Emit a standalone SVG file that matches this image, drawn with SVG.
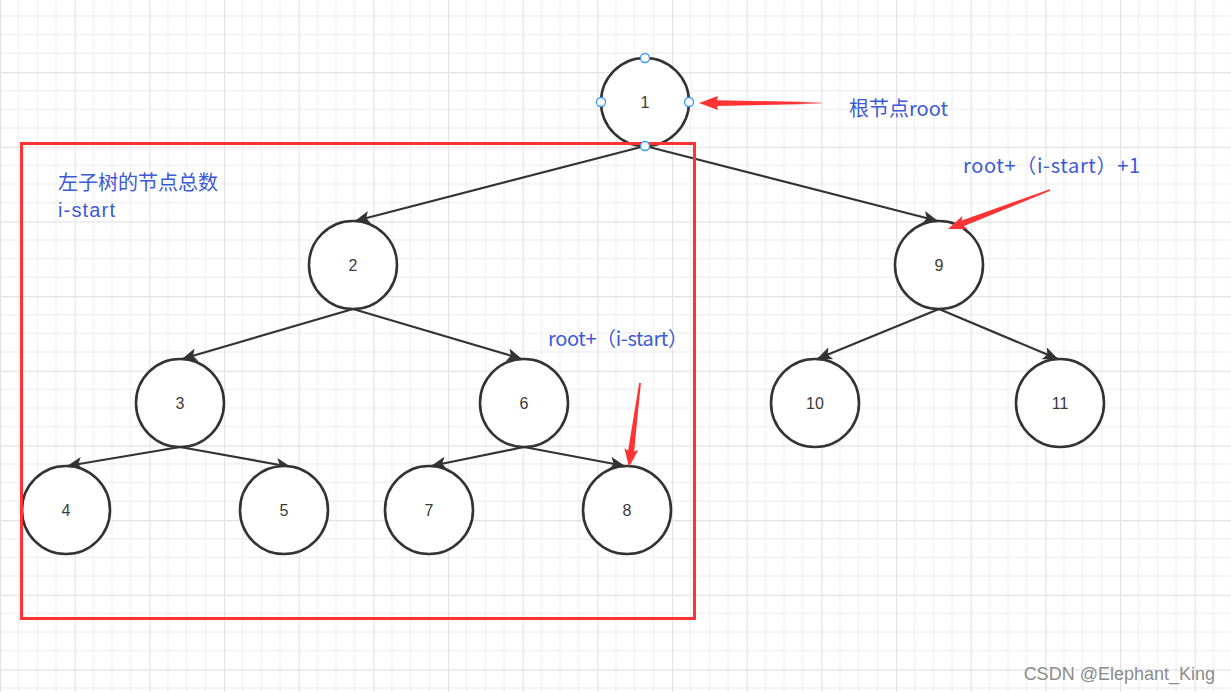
<svg xmlns="http://www.w3.org/2000/svg" width="1231" height="692" viewBox="0 0 1231 692">
<defs>
<pattern id="grid" patternUnits="userSpaceOnUse" x="0" y="72" width="74.667" height="74.667">
<path d="M18.667 0V74.667M37.333 0V74.667M56 0V74.667M0 18.667H74.667M0 37.333H74.667M0 56H74.667" stroke="#f0f0f0" stroke-width="1.3" fill="none"/>
<path d="M0.5 0V74.667M0 0.5H74.667" stroke="#e3e3e3" stroke-width="1.3" fill="none"/>
</pattern>
<marker id="arr" markerUnits="userSpaceOnUse" markerWidth="17" markerHeight="14" refX="15" refY="6.5" orient="auto">
<path d="M0 0L15 6.5L0 13L3.5 6.5z" fill="#333"/>
</marker>
<style>
.edge{stroke:#333;stroke-width:2.2;fill:none;marker-end:url(#arr)}
.node ellipse{fill:#fff;stroke:#333;stroke-width:2.6}
.node text{font-family:"Liberation Sans",Arial,sans-serif;font-size:16px;fill:#3a3a3a;text-anchor:middle}
.lbl{font-family:"Noto Sans CJK SC","Noto Sans",sans-serif;font-size:20px;fill:#3d5ad6}
.lbl2{font-family:"Liberation Sans",Arial,sans-serif;font-size:20px;fill:#3d5ad6}
.red{fill:#ff3333}
.handle{fill:#fff;stroke:#3399ff;stroke-width:1.3}
</style>
<linearGradient id="fade1" x1="699" y1="0" x2="822" y2="0" gradientUnits="userSpaceOnUse">
<stop offset="0.8" stop-color="#ff3333"/><stop offset="1" stop-color="#ff3333" stop-opacity="0.35"/>
</linearGradient>
</defs>
<rect width="1231" height="692" fill="#fff"/>
<rect width="1231" height="692" fill="url(#grid)"/>
<g id="connectors">
<line class="edge" x1="645" y1="146" x2="355" y2="221"/>
<line class="edge" x1="645" y1="146" x2="938" y2="221"/>
<line class="edge" x1="353" y1="309" x2="182" y2="359"/>
<line class="edge" x1="353" y1="309" x2="522" y2="359"/>
<line class="edge" x1="180" y1="447" x2="67" y2="466"/>
<line class="edge" x1="180" y1="447" x2="291" y2="467"/>
<line class="edge" x1="524" y1="447" x2="431" y2="466"/>
<line class="edge" x1="524" y1="447" x2="625" y2="466"/>
<line class="edge" x1="939" y1="309" x2="817" y2="359"/>
<line class="edge" x1="939" y1="309" x2="1058" y2="359"/>
</g>
<g id="node1" class="node"><ellipse cx="645" cy="102" rx="44" ry="44"/><text x="645" y="108">1</text></g>
<g id="node2" class="node"><ellipse cx="353" cy="265" rx="44" ry="44"/><text x="353" y="271">2</text></g>
<g id="node9" class="node"><ellipse cx="939" cy="265" rx="44" ry="44"/><text x="939" y="271">9</text></g>
<g id="node3" class="node"><ellipse cx="180" cy="403" rx="44" ry="44"/><text x="180" y="409">3</text></g>
<g id="node6" class="node"><ellipse cx="524" cy="403" rx="44" ry="44"/><text x="524" y="409">6</text></g>
<g id="node10" class="node"><ellipse cx="815" cy="403" rx="44" ry="44"/><text x="815" y="409">10</text></g>
<g id="node11" class="node"><ellipse cx="1060" cy="403" rx="44" ry="44"/><text x="1060" y="409">11</text></g>
<g id="node4" class="node"><ellipse cx="66" cy="510" rx="44" ry="44"/><text x="66" y="516">4</text></g>
<g id="node5" class="node"><ellipse cx="284" cy="510" rx="44" ry="44"/><text x="284" y="516">5</text></g>
<g id="node7" class="node"><ellipse cx="429" cy="510" rx="44" ry="44"/><text x="429" y="516">7</text></g>
<g id="node8" class="node"><ellipse cx="627" cy="510" rx="44" ry="44"/><text x="627" y="516">8</text></g>
<rect id="subtree-box" x="21.5" y="143.5" width="673" height="475" fill="none" stroke="#ff3333" stroke-width="3"/>
<g id="handles">
<circle class="handle" cx="645" cy="58" r="4.5"/>
<circle class="handle" cx="601" cy="102" r="4.5"/>
<circle class="handle" cx="689" cy="102" r="4.5"/>
<circle class="handle" cx="645" cy="146" r="4.5"/>
</g>
<g id="red-arrows">
<polygon fill="url(#fade1)" points="699,103 718,96 717,100.2 822,102.3 822,103.7 717,106 718,110"/>
<polygon class="red" points="948,229 962.3,216.1 961.8,220.5 1049.7,189.3 1050.3,190.7 964,226.1 967.3,229.1"/>
<polygon class="red" points="629,467 624.4,448.2 628.1,450.7 639.1,382.9 640.9,383.1 634.1,451.5 638.3,450"/>
</g>
<g id="labels">
<text class="lbl" x="849" y="116">根节点root</text>
<text class="lbl" x="58" y="190">左子树的节点总数</text>
<text class="lbl2" x="58" y="217" textLength="57" lengthAdjust="spacing">i-start</text>
<text class="lbl" x="963" y="173" textLength="177" lengthAdjust="spacing">root+（i-start）+1</text>
<text class="lbl" x="548" y="346" textLength="140" lengthAdjust="spacing">root+（i-start）</text>
</g>
<text x="1215" y="680" text-anchor="end" font-family="Liberation Sans,Arial,sans-serif" font-size="18" fill="#8c8c8c">CSDN @Elephant_King</text>
</svg>
